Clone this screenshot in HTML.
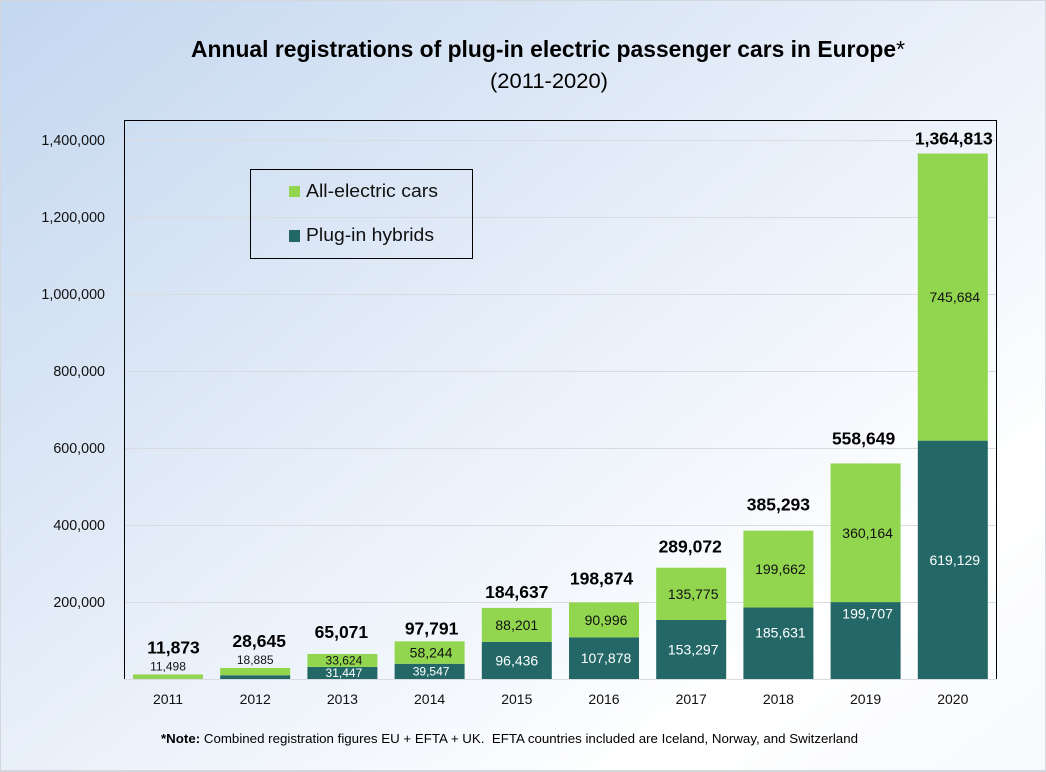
<!DOCTYPE html>
<html lang="en">
<head>
<meta charset="utf-8">
<title>Annual registrations of plug-in electric passenger cars in Europe</title>
<style>
html,body{margin:0;padding:0;background:#fff}
#chart-frame{position:relative;width:1046px;height:772px;overflow:hidden;box-sizing:border-box;border:1px solid #d4d8dd;border-width:1px 1px 2px 1px;background:linear-gradient(142deg,#c3d7f0 0%,#d6e3f4 24%,#e6eef9 45%,#f6f9fd 68%,#ffffff 80%,#f7f9fd 100%)}
svg{position:absolute;left:-1px;top:-1px;display:block;fill:#000}
text{font-family:"Liberation Sans",sans-serif;white-space:pre}
</style>
</head>
<body>
<div id="chart-frame">
<svg id="chart" width="1046" height="772" viewBox="0 0 1046 772">
  <text x="191" y="57" font-size="23.5" font-weight="bold" textLength="714" lengthAdjust="spacingAndGlyphs">Annual registrations of plug-in electric passenger cars in Europe<tspan font-weight="normal">*</tspan></text>
  <text x="490" y="88" font-size="21" textLength="118" lengthAdjust="spacingAndGlyphs">(2011-2020)</text>
  <g id="grid"></g>
  <g id="bars"></g>
  <path d="M124.5 679V120.5H996.5V679" fill="none" stroke="#000" stroke-width="1"/>
  <g id="labels"></g>
  <g id="yticks"></g>
  <g id="xticks"></g>
  <g>
    <rect x="250.5" y="169.5" width="222" height="89" fill="none" stroke="#000"/>
    <rect x="289" y="186" width="11" height="11" fill="#92d650"/>
    <text x="306" y="197" font-size="18" textLength="132" lengthAdjust="spacingAndGlyphs" fill="#111">All-electric cars</text>
    <rect x="289" y="230" width="11" height="12" fill="#236767"/>
    <text x="306" y="241" font-size="18" textLength="128" lengthAdjust="spacingAndGlyphs" fill="#111">Plug-in hybrids</text>
  </g>
  <text x="161" y="743" font-size="13" textLength="697" lengthAdjust="spacingAndGlyphs"><tspan font-weight="bold">*Note:</tspan> Combined registration figures EU + EFTA + UK.  EFTA countries included are Iceland, Norway, and Switzerland</text>
</svg>
</div>
<script>
const years = [2011, 2012, 2013, 2014, 2015, 2016, 2017, 2018, 2019, 2020];
const allElectric = [11498, 18885, 33624, 58244, 88201, 90996, 135775, 199662, 360164, 745684];
const plugInHybrids = [375, 9760, 31447, 39547, 96436, 107878, 153297, 185631, 199707, 619129];
const printedTotals = [11873, 28645, 65071, 97791, 184637, 198874, 289072, 385293, 558649, 1364813];
const yTicks = [200000, 400000, 600000, 800000, 1000000, 1200000, 1400000];

const NS = 'http://www.w3.org/2000/svg';
const yScale = v => 679 - v * (539 / 1400000);
const xCenter = i => 168 + i * 87.2;
const fmt = v => v.toLocaleString('en-US');
function make(tag, parent, attrs, content) {
  const el = document.createElementNS(NS, tag);
  for (const k in attrs) el.setAttribute(k, attrs[k]);
  if (content !== undefined) el.textContent = content;
  parent.appendChild(el);
  return el;
}
const grid = document.getElementById('grid');
const bars = document.getElementById('bars');
const labels = document.getElementById('labels');
const yticksG = document.getElementById('yticks');
const xticksG = document.getElementById('xticks');
const BAR_W = 70;
const gapAboveStack = [27, 27, 22, 13, 16, 24, 21, 26, 25, 15];
const totalShift = [5.5, 4, -1, 2, 0, -2.5, -1, 0, -2, 1];

yTicks.forEach(t => {
  const line = make('line', grid, {x1: 125, x2: 996, y1: Math.round(yScale(t)) + 0.5, y2: Math.round(yScale(t)) + 0.5, stroke: '#d9dbe0'});
  
  
  const lab = make('text', yticksG, {x: 105, y: yScale(t) + 5, 'font-size': 14.3, 'text-anchor': 'end', fill: '#111'}, fmt(t));
  
  
});
const baseline = make('line', grid, {x1: 125, x2: 996, y1: 679.5, y2: 679.5, stroke: '#d9dbe0'});



years.forEach((year, i) => {
  const cx = xCenter(i);
  const yHybrid = yScale(plugInHybrids[i]);
  const yStack = yScale(plugInHybrids[i] + allElectric[i]);
  const labelShift = year >= 2016 ? 2 : year === 2013 ? 1.5 : year === 2014 ? 1.5 : 0;

  const hybridBar = make('rect', bars, {x: cx - BAR_W / 2, y: yHybrid, width: BAR_W, height: 679 - yHybrid, fill: '#236767'});
  
  
  const electricBar = make('rect', bars, {x: cx - BAR_W / 2, y: yStack, width: BAR_W, height: yHybrid - yStack, fill: '#92d650'});
  
  

  const eH = yHybrid - yStack;
  const hH = 679 - yHybrid;
  const eSmall = eH < 16;
  const eY = eH < 10 ? yStack - 8 : yStack + eH / 2;
  const eLabel = make('text', labels, {x: cx + labelShift, y: eY + (eSmall ? 4 : 5), 'font-size': eSmall ? 12 : 14, 'text-anchor': 'middle', fill: '#111'}, fmt(allElectric[i]));
  
  

  if (hH >= 10) {
    const nudge = year === 2018 ? -11 : year === 2019 ? -27 : 0;
    const hSmall = hH < 16;
    const hLabel = make('text', labels, {x: cx + labelShift, y: yHybrid + hH / 2 + (hSmall ? 4 : 5) + nudge, 'font-size': hSmall ? 12 : 14, 'text-anchor': 'middle', fill: '#fff'}, fmt(plugInHybrids[i]));
    
    
  }

  const tLabel = make('text', labels, {x: cx + totalShift[i], y: yStack - gapAboveStack[i] + 6, 'font-size': 17.5, 'font-weight': 'bold', 'text-anchor': 'middle'}, fmt(printedTotals[i]));
  
  

  const xLabel = make('text', xticksG, {x: cx, y: 704, 'font-size': 14, 'text-anchor': 'middle', fill: '#111'}, String(year));
  
  
});
</script>
</body>
</html>
